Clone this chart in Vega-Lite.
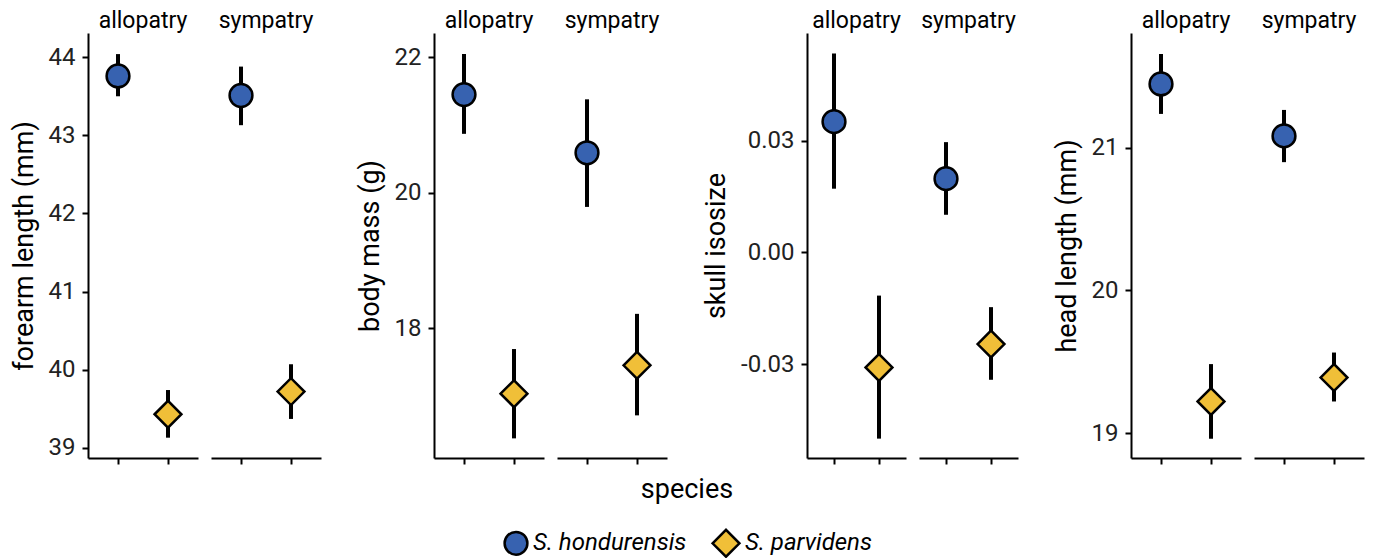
{
  "$schema": "https://vega.github.io/schema/vega-lite/v6.json",
  "padding": {"left": 10, "top": 10, "right": 8, "bottom": 0},
  "background": "white",
  "data": {"values": [
    {"trait": "forearm", "region": "allopatry", "species": "S. hondurensis", "mean": 43.76, "lo": 43.50, "hi": 44.04},
    {"trait": "forearm", "region": "allopatry", "species": "S. parvidens", "mean": 39.43, "lo": 39.13, "hi": 39.74},
    {"trait": "forearm", "region": "sympatry", "species": "S. hondurensis", "mean": 43.51, "lo": 43.13, "hi": 43.88},
    {"trait": "forearm", "region": "sympatry", "species": "S. parvidens", "mean": 39.72, "lo": 39.37, "hi": 40.07},
    {"trait": "mass", "region": "allopatry", "species": "S. hondurensis", "mean": 21.45, "lo": 20.87, "hi": 22.05},
    {"trait": "mass", "region": "allopatry", "species": "S. parvidens", "mean": 17.03, "lo": 16.37, "hi": 17.69},
    {"trait": "mass", "region": "sympatry", "species": "S. hondurensis", "mean": 20.59, "lo": 19.79, "hi": 21.38},
    {"trait": "mass", "region": "sympatry", "species": "S. parvidens", "mean": 17.45, "lo": 16.71, "hi": 18.21},
    {"trait": "skull", "region": "allopatry", "species": "S. hondurensis", "mean": 0.0351, "lo": 0.0171, "hi": 0.0534},
    {"trait": "skull", "region": "allopatry", "species": "S. parvidens", "mean": -0.0309, "lo": -0.0500, "hi": -0.0116},
    {"trait": "skull", "region": "sympatry", "species": "S. hondurensis", "mean": 0.0198, "lo": 0.0101, "hi": 0.0296},
    {"trait": "skull", "region": "sympatry", "species": "S. parvidens", "mean": -0.0246, "lo": -0.0342, "hi": -0.0147},
    {"trait": "head", "region": "allopatry", "species": "S. hondurensis", "mean": 21.446, "lo": 21.236, "hi": 21.656},
    {"trait": "head", "region": "allopatry", "species": "S. parvidens", "mean": 19.221, "lo": 18.96, "hi": 19.483},
    {"trait": "head", "region": "sympatry", "species": "S. hondurensis", "mean": 21.082, "lo": 20.898, "hi": 21.264},
    {"trait": "head", "region": "sympatry", "species": "S. parvidens", "mean": 19.389, "lo": 19.221, "hi": 19.564}
  ]},
  "hconcat": [
    {
      "transform": [{"filter": "datum.trait == 'forearm'"}],
      "facet": {"column": {"field": "region", "type": "nominal", "title": null}},
      "spacing": 13,
      "spec": {
        "width": 110, "height": 425,
        "encoding": {
          "x": {"field": "species", "type": "nominal", "scale": {"type": "point", "padding": 0.6}, "axis": {"labels": false, "title": null}},
          "y": {"type": "quantitative", "scale": {"domain": [38.87, 44.31], "nice": false, "zero": false}, "axis": {"title": "forearm length (mm)", "values": [39, 40, 41, 42, 43, 44]}}
        },
        "layer": [
          {"mark": {"type": "rule", "strokeWidth": 4, "color": "black"}, "encoding": {"y": {"field": "lo", "type": "quantitative"}, "y2": {"field": "hi"}}},
          {"mark": {"type": "point", "filled": true, "opacity": 1, "stroke": "black", "strokeWidth": 2.5}, "encoding": {"y": {"field": "mean", "type": "quantitative"},
            "color": {"field": "species", "type": "nominal", "scale": {"range": ["#3762b0", "#f0bf38"]}, "legend": {"title": "species"}},
            "shape": {"field": "species", "type": "nominal", "scale": {"range": ["circle", "diamond"]}, "legend": {"title": "species"}},
            "size": {"field": "species", "type": "nominal", "scale": {"type": "ordinal", "range": [520, 720]}, "legend": {"title": "species"}}}}
        ]
      }
    },
    {
      "transform": [{"filter": "datum.trait == 'mass'"}],
      "facet": {"column": {"field": "region", "type": "nominal", "title": null}},
      "spacing": 13,
      "spec": {
        "width": 110, "height": 425,
        "encoding": {
          "x": {"field": "species", "type": "nominal", "scale": {"type": "point", "padding": 0.6}, "axis": {"labels": false, "title": null}},
          "y": {"type": "quantitative", "scale": {"domain": [16.08, 22.36], "nice": false, "zero": false}, "axis": {"title": "body mass (g)", "values": [18, 20, 22]}}
        },
        "layer": [
          {"mark": {"type": "rule", "strokeWidth": 4, "color": "black"}, "encoding": {"y": {"field": "lo", "type": "quantitative"}, "y2": {"field": "hi"}}},
          {"mark": {"type": "point", "filled": true, "opacity": 1, "stroke": "black", "strokeWidth": 2.5}, "encoding": {"y": {"field": "mean", "type": "quantitative"},
            "color": {"field": "species", "type": "nominal", "scale": {"range": ["#3762b0", "#f0bf38"]}, "legend": {"title": "species"}},
            "shape": {"field": "species", "type": "nominal", "scale": {"range": ["circle", "diamond"]}, "legend": {"title": "species"}},
            "size": {"field": "species", "type": "nominal", "scale": {"type": "ordinal", "range": [520, 720]}, "legend": {"title": "species"}}}}
        ]
      }
    },
    {
      "transform": [{"filter": "datum.trait == 'skull'"}],
      "facet": {"column": {"field": "region", "type": "nominal", "title": null}},
      "spacing": 13,
      "spec": {
        "width": 99, "height": 425,
        "encoding": {
          "x": {"field": "species", "type": "nominal", "scale": {"type": "point", "padding": 0.6}, "axis": {"labels": false, "title": null}},
          "y": {"type": "quantitative", "scale": {"domain": [-0.0552, 0.0589], "nice": false, "zero": false}, "axis": {"title": "skull isosize", "values": [-0.03, 0, 0.03], "labelExpr": "replace(format(datum.value, '.2f'), '\u2212', '-')"}}
        },
        "layer": [
          {"mark": {"type": "rule", "strokeWidth": 4, "color": "black"}, "encoding": {"y": {"field": "lo", "type": "quantitative"}, "y2": {"field": "hi"}}},
          {"mark": {"type": "point", "filled": true, "opacity": 1, "stroke": "black", "strokeWidth": 2.5}, "encoding": {"y": {"field": "mean", "type": "quantitative"},
            "color": {"field": "species", "type": "nominal", "scale": {"range": ["#3762b0", "#f0bf38"]}, "legend": {"title": "species"}},
            "shape": {"field": "species", "type": "nominal", "scale": {"range": ["circle", "diamond"]}, "legend": {"title": "species"}},
            "size": {"field": "species", "type": "nominal", "scale": {"type": "ordinal", "range": [520, 720]}, "legend": {"title": "species"}}}}
        ]
      }
    },
    {
      "transform": [{"filter": "datum.trait == 'head'"}],
      "facet": {"column": {"field": "region", "type": "nominal", "title": null}},
      "spacing": 13,
      "spec": {
        "width": 110, "height": 425,
        "encoding": {
          "x": {"field": "species", "type": "nominal", "scale": {"type": "point", "padding": 0.6}, "axis": {"labels": false, "title": null}},
          "y": {"type": "quantitative", "scale": {"domain": [18.825, 21.803], "nice": false, "zero": false}, "axis": {"title": "head length (mm)", "values": [19, 20, 21]}}
        },
        "layer": [
          {"mark": {"type": "rule", "strokeWidth": 4, "color": "black"}, "encoding": {"y": {"field": "lo", "type": "quantitative"}, "y2": {"field": "hi"}}},
          {"mark": {"type": "point", "filled": true, "opacity": 1, "stroke": "black", "strokeWidth": 2.5}, "encoding": {"y": {"field": "mean", "type": "quantitative"},
            "color": {"field": "species", "type": "nominal", "scale": {"range": ["#3762b0", "#f0bf38"]}, "legend": {"title": "species"}},
            "shape": {"field": "species", "type": "nominal", "scale": {"range": ["circle", "diamond"]}, "legend": {"title": "species"}},
            "size": {"field": "species", "type": "nominal", "scale": {"type": "ordinal", "range": [520, 720]}, "legend": {"title": "species"}}}}
        ]
      }
    }
  ],
  "spacing": 35,
  "resolve": {"scale": {"x": "independent", "y": "independent", "color": "shared", "shape": "shared", "size": "shared"}},
  "config": {
    "font": "Roboto",
    "view": {"stroke": null},
    "axis": {
      "grid": false,
      "domainColor": "black",
      "domainWidth": 2,
      "tickColor": "black",
      "tickWidth": 2,
      "tickSize": 6,
      "labelFont": "Roboto",
      "labelFontSize": 24,
      "labelColor": "#222",
      "labelPadding": 7,
      "titleFont": "Roboto",
      "titleFontSize": 27,
      "titleFontWeight": "normal",
      "titleColor": "black",
      "titlePadding": 10
    },
    "header": {
      "labelFont": "Roboto",
      "labelFontSize": 23,
      "labelColor": "black",
      "labelPadding": 0,
      "labelOrient": "top"
    },
    "legend": {
      "orient": "bottom",
      "direction": "horizontal",
      "titleFont": "Roboto",
      "titleFontSize": 27,
      "titleFontWeight": "normal",
      "titleColor": "black",
      "titleAnchor": "middle",
      "titleAlign": "center",
      "titlePadding": 24,
      "labelFont": "Roboto",
      "labelFontSize": 24,
      "labelFontStyle": "italic",
      "labelColor": "black",
      "labelOffset": 4,
      "columnPadding": 20,
      "symbolStrokeColor": "black",
      "symbolStrokeWidth": 2.5,
      "offset": 12,
      "layout": {"bottom": {"anchor": "middle"}}
    }
  }
}
